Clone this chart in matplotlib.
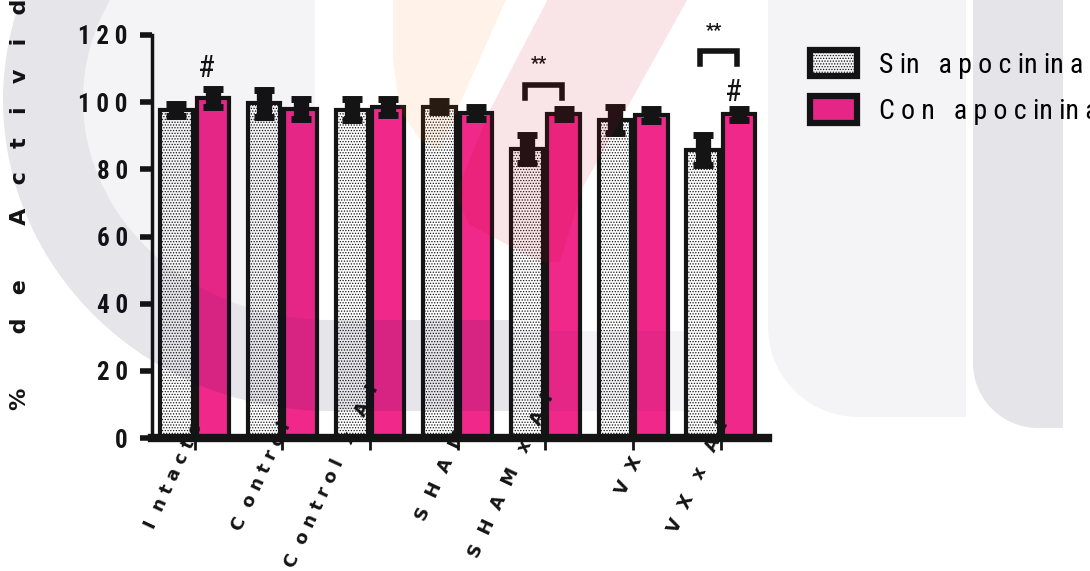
import numpy as np
import matplotlib.pyplot as plt
from matplotlib import font_manager as fm
from matplotlib.patches import Polygon
from matplotlib.transforms import ScaledTranslation

# datos
groups = ['Intacto', 'Control', 'Control x AI', 'SHAM', 'SHAM x AI', 'VX', 'VX x AI']
sin_apo = [97.8, 99.7, 97.8, 98.6, 86.1, 94.8, 85.8]
sin_err = [1.8, 4.0, 3.2, 1.6, 4.2, 3.9, 4.5]
con_apo = [101.3, 98.0, 98.6, 96.8, 96.5, 96.2, 96.4]
con_err = [2.6, 3.0, 2.4, 1.9, 1.5, 1.7, 1.7]
legend_labels = ['S in   a p o c in in a', 'C o n   a p o c in in a']
y_ticks = [0, 20, 40, 60, 80, 100, 120]

# anotaciones: '#' sobre la barra con apocinina, '**' con corchete
hash_groups = [0, 6]
hash_y = [110, 103]
bracket_groups = [4, 6]
bracket_y = [105.2, 115.3]
star_y = [111.3, 121.2]

BLACK = '#141414'
PINK = '#F0288A'
W, H = 1090, 571


def _weight(f):
    w = f.weight
    if isinstance(w, str):
        w = fm.weight_dict.get(w, 400)
    return w


def narrow_props(weight, size):
    # busca una fuente estrecha instalada (Arial Narrow en el original)
    prefs = ['Liberation Sans Narrow', 'Arial Narrow', 'Roboto Condensed',
             'DejaVu Sans', 'Open Sans Condensed']
    cands = [f for f in fm.fontManager.ttflist
             if f.style == 'normal' and ('Narrow' in f.name or 'Condensed' in f.name
                                         or f.stretch in ('condensed', 'semi-condensed'))]

    def rank(f):
        p = prefs.index(f.name) if f.name in prefs else len(prefs)
        return (p, abs(_weight(f) - weight))

    if cands:
        best = min(cands, key=rank)
        return fm.FontProperties(fname=best.fname, size=size)
    return fm.FontProperties(family='Liberation Sans', weight=weight, size=size)


def spaced(s, gap=2, word=4):
    return (' ' * word).join((' ' * gap).join(w) for w in s.split(' '))


def spaced_label(s):
    # mayusculas mas separadas que minusculas, como en el original
    out = []
    for w in s.split(' '):
        part = ''
        for i, ch in enumerate(w):
            part += ch
            if i < len(w) - 1:
                part += '  ' if ch.isupper() else ' '
        out.append(part)
    return '   '.join(out)


fig = plt.figure(figsize=(W / 100, H / 100), dpi=100)
ax = fig.add_axes([152 / W, 1 - 438 / H, (767.5 - 152) / W, (438 - 35) / H])
ax.set_facecolor('none')

x = np.arange(len(groups))
bw = 0.37
off = 0.208
plt.rcParams['hatch.linewidth'] = 0.6

b1 = ax.bar(x - off, sin_apo, bw, color='white', edgecolor=BLACK, linewidth=3,
            hatch='......', zorder=2)
b2 = ax.bar(x + off, con_apo, bw, color=PINK, edgecolor=BLACK, linewidth=3, zorder=2)
ax.errorbar(x - off, sin_apo, yerr=sin_err, fmt='none', ecolor=BLACK,
            elinewidth=11, capsize=7.5, capthick=5, zorder=3)
ax.errorbar(x + off, con_apo, yerr=con_err, fmt='none', ecolor=BLACK,
            elinewidth=11, capsize=7.5, capthick=5, zorder=3)

# marcas de significancia
for g, yh in zip(hash_groups, hash_y):
    ax.text(g + off - 0.07, yh, '#', ha='center', va='center',
            fontproperties=narrow_props(400, 22), color=BLACK, clip_on=False)
for g, yb, ys in zip(bracket_groups, bracket_y, star_y):
    x0, x1 = g - off - 0.03, g + off - 0.02
    ax.plot([x0, x0, x1, x1], [yb - 4, yb, yb, yb - 4], color=BLACK, lw=4,
            solid_joinstyle='miter', clip_on=False, zorder=3)
    ax.text((x0 + x1) / 2 - 0.05, ys, '**', ha='center', va='center',
            fontproperties=narrow_props(700, 13), color=BLACK, clip_on=False)

ax.set_xlim(-0.486, 6.532)
ax.set_ylim(0, 120)
ax.tick_params(axis='y', length=8.5, width=4, pad=9, color=BLACK)
ax.tick_params(axis='x', length=8.5, width=2, pad=16, color=BLACK)
ax.set_yticks(y_ticks)
ax.set_yticklabels([spaced(str(v), gap=1) for v in y_ticks])
ax.set_xticks(x)
ax.set_xticklabels([spaced_label(g) for g in groups], rotation=65, ha='right',
                   va='center', fontsize=13, fontweight='bold', family='DejaVu Sans',
                   color=BLACK)
tick_font = narrow_props(700, 18)
for lab in ax.get_yticklabels():
    lab.set_fontproperties(tick_font)
    lab.set_color(BLACK)
shift = ScaledTranslation(12 / 100, -4 / 100, fig.dpi_scale_trans)
for lab in ax.get_xticklabels():
    lab.set_transform(lab.get_transform() + shift)

ax.xaxis.set_zorder(5)
for s in ['top', 'right']:
    ax.spines[s].set_visible(False)
ax.spines['left'].set_linewidth(2.5)
ax.spines['bottom'].set_linewidth(6)
ax.spines['left'].set_color(BLACK)
ax.spines['bottom'].set_color(BLACK)
ax.spines['bottom'].set_zorder(4)

fig.text(20 / W, 1 - 410 / H, spaced('% de Actividad', gap=3, word=7), rotation=90,
         rotation_mode='anchor', ha='left', va='center', fontsize=16,
         fontweight='bold', family='DejaVu Sans', color=BLACK)

leg = ax.legend([b1, b2], legend_labels, loc='upper left',
                bbox_to_anchor=(810 / W, 1 - 50 / H), bbox_transform=fig.transFigure,
                frameon=False, prop=narrow_props(400, 20),
                handlelength=1.7, handleheight=1.08, handletextpad=0.8,
                labelspacing=0.64, borderpad=0, borderaxespad=0)
for h in leg.legend_handles:
    h.set_linewidth(4.5)


# marca de agua (tesis), en pixeles de la figura
def wm(pts, color, alpha):
    pts = np.asarray(pts, float)
    xy = np.column_stack([pts[:, 0] / W, 1 - pts[:, 1] / H])
    fig.add_artist(Polygon(xy, closed=True, transform=fig.transFigure,
                           facecolor=color, edgecolor='none', alpha=alpha, zorder=10))


t = np.radians(np.linspace(-30, 90, 80))
outer = np.column_stack([330 - 327 * np.cos(t), 100 + 311 * np.sin(t)])
inner = np.column_stack([330 - 247 * np.cos(t), 100 + 220 * np.sin(t)])
ring = np.vstack([outer, [[511, 411], [511, 320]], inner[::-1]])
wm(ring, '#000032', 0.1)
t2 = np.radians(np.linspace(-30, 86, 60))
inside = np.column_stack([330 - 247 * np.cos(t2), 100 + 220 * np.sin(t2)])
wm(np.vstack([inside, [[315, 320], [315, -60]]]), '#000046', 0.043)
wm([[511, 331], [684, 331], [684, 411], [511, 411]], '#000046', 0.045)

a = np.radians(np.linspace(0, 90, 30))
corner = np.column_stack([858 - 90 * np.sin(a), 327 + 90 * np.cos(a)])
wm(np.vstack([[[768, -5], [966, -5], [966, 417]], corner]), '#000046', 0.043)
corner = np.column_stack([1038 - 65 * np.sin(a), 363 + 65 * np.cos(a)])
wm(np.vstack([[[973, -5], [1063, -5], [1063, 428]], corner]), '#000032', 0.105)

wm([[393, -5], [508, -5], [455, 115], [440, 150], [420, 140], [400, 110], [393, 60]],
   '#FF7800', 0.085)
wm([[550, -5], [690, -5], [583, 187], [560, 262], [540, 262], [470, 225], [455, 195],
    [490, 110]], '#C80014', 0.1)

fig.savefig('out.png', dpi=100)
